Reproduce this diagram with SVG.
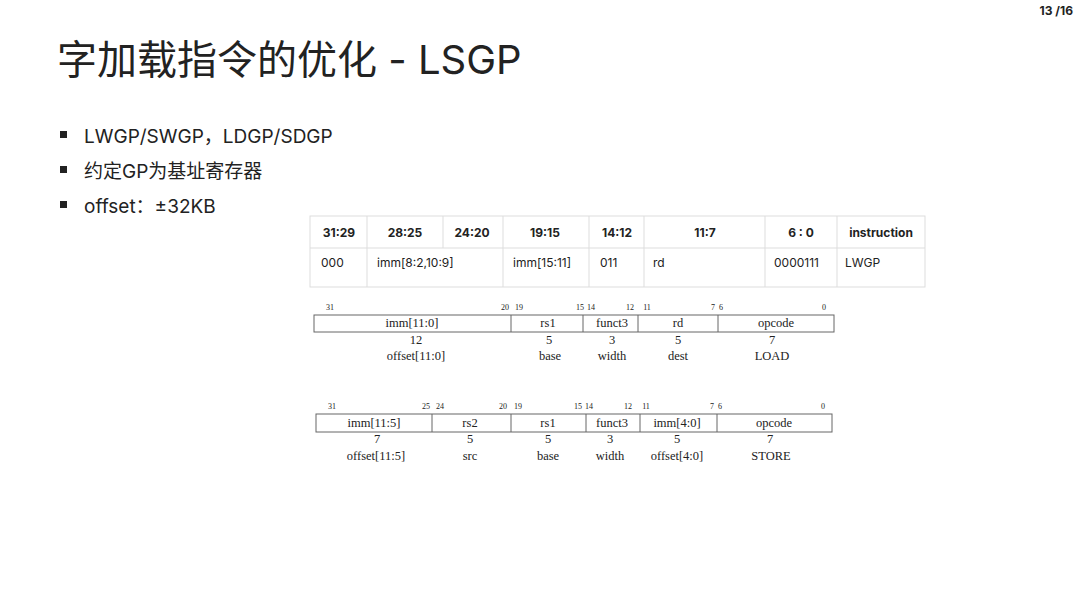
<svg xmlns="http://www.w3.org/2000/svg" width="1080" height="603" viewBox="0 0 1080 603">
<style>
.s{font-family:"Inter","Noto Sans","Noto Sans CJK SC",sans-serif;fill:#222}
.t{font-family:"Inter","Liberation Sans",sans-serif;font-size:12px;fill:#222}
.r{font-family:"Liberation Serif",serif;fill:#222;text-anchor:middle}
.b{font-size:8px}.f{font-size:12.5px}
.c{text-anchor:middle}
.g{stroke:#ddd;fill:none}
.k{stroke:#666;fill:none;stroke-width:1}
</style>
<rect width="1080" height="603" fill="#fff"/>
<text class="s" x="1073" y="15" font-size="12" font-weight="bold" text-anchor="end">13 /16</text>
<text class="s" x="57" y="74" font-size="40">字加载指令的优化 - LSGP</text>
<g font-size="19">
<rect x="60" y="131" width="7" height="7" fill="#222"/><text class="s" x="84" y="143">LWGP/SWGP，LDGP/SDGP</text>
<rect x="60" y="166" width="7" height="7" fill="#222"/><text class="s" x="84" y="178">约定GP为基址寄存器</text>
<rect x="60" y="201" width="7" height="7" fill="#222"/><text class="s" x="84" y="213">offset：±32KB</text>
</g>
<g id="table">
<rect class="g" x="310" y="216" width="615" height="71"/>
<line class="g" x1="310" y1="248" x2="925" y2="248"/>
<path class="g" d="M367 216V287M443 216V248M503 216V287M589 216V287M644 216V287M765 216V287M837 216V287"/>
<g class="t" font-weight="bold">
<text x="339" y="237" class="c">31:29</text><text x="405" y="237" class="c">28:25</text><text x="472" y="237" class="c">24:20</text>
<text x="545" y="237" class="c">19:15</text><text x="617" y="237" class="c">14:12</text><text x="705" y="237" class="c">11:7</text>
<text x="801" y="237" class="c">6 : 0</text><text x="881" y="237" class="c">instruction</text>
</g>
<g class="t">
<text x="321" y="267">000</text><text x="377" y="267">imm[8:2,10:9]</text><text x="513" y="267">imm[15:11]</text>
<text x="600" y="267">011</text><text x="653" y="267">rd</text><text x="774" y="267">0000111</text><text x="845" y="267">LWGP</text>
</g>
</g>
<g id="load">
<rect class="k" x="314" y="315" width="520" height="17"/>
<path class="k" d="M511 315V332M583 315V332M638 315V332M718 315V332"/>
<g class="r b"><text x="330" y="310">31</text><text x="505" y="310">20</text><text x="519" y="310">19</text><text x="580" y="310">15</text><text x="591" y="310">14</text><text x="630" y="310">12</text><text x="647" y="310">11</text><text x="713" y="310">7</text><text x="721" y="310">6</text><text x="824" y="310">0</text></g>
<g class="r f"><text x="412" y="327">imm[11:0]</text><text x="548" y="327">rs1</text><text x="612" y="327">funct3</text><text x="678" y="327">rd</text><text x="776" y="327">opcode</text>
<text x="416" y="344">12</text><text x="549" y="344">5</text><text x="612" y="344">3</text><text x="678" y="344">5</text><text x="772" y="344">7</text>
<text x="416" y="360">offset[11:0]</text><text x="550" y="360">base</text><text x="612" y="360">width</text><text x="678" y="360">dest</text><text x="772" y="360">LOAD</text></g>
</g>
<g id="store">
<rect class="k" x="316" y="414" width="516" height="18"/>
<path class="k" d="M432 414V432M511 414V432M586 414V432M640 414V432M717 414V432"/>
<g class="r b"><text x="332" y="409">31</text><text x="426" y="409">25</text><text x="440" y="409">24</text><text x="503" y="409">20</text><text x="518" y="409">19</text><text x="578" y="409">15</text><text x="589" y="409">14</text><text x="628" y="409">12</text><text x="646" y="409">11</text><text x="712" y="409">7</text><text x="720" y="409">6</text><text x="823" y="409">0</text></g>
<g class="r f"><text x="374" y="427">imm[11:5]</text><text x="470" y="427">rs2</text><text x="548" y="427">rs1</text><text x="612" y="427">funct3</text><text x="677" y="427">imm[4:0]</text><text x="774" y="427">opcode</text>
<text x="377" y="443">7</text><text x="470" y="443">5</text><text x="548" y="443">5</text><text x="610" y="443">3</text><text x="677" y="443">5</text><text x="770" y="443">7</text>
<text x="376" y="460">offset[11:5]</text><text x="470" y="460">src</text><text x="548" y="460">base</text><text x="610" y="460">width</text><text x="677" y="460">offset[4:0]</text><text x="771" y="460">STORE</text></g>
</g>
</svg>
